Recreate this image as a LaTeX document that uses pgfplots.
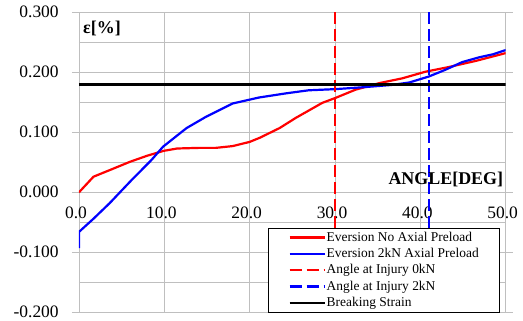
\documentclass[border=0pt]{standalone}
\usepackage{pgfplots}
\pgfplotsset{compat=1.18}
\usepackage{fontspec}
\setmainfont{Liberation Serif}
\begin{document}
\begin{tikzpicture}
\path[use as bounding box] (-79bp,-8.7bp) rectangle (444bp,312.3bp);
\begin{axis}[
  at={(0,0)}, anchor=south west,
  width=426.7bp, height=300bp, scale only axis,
  xmin=0, xmax=50, ymin=-0.2, ymax=0.3,
  xtick={0,10,20,30,40,50},
  ytick={-0.2,-0.1,0,0.1,0.2,0.3},
  minor ytick={-0.15,-0.05,0.05,0.15,0.25},
  grid=both,
  major grid style={draw=gray!50, line width=0.8bp},
  minor grid style={draw=gray!50, line width=0.8bp},
  axis line style={draw=none},
  tick align=outside,
  major tick length=7bp,
  minor tick length=0pt,
  ytick style={draw=gray!50, line width=0.8bp},
  xtick style={draw=none},
  /pgf/number format/assume math mode=true,
  xticklabel={\pgfmathprintnumber[assume math mode=true,fixed,fixed zerofill,precision=1]{\tick}},
  yticklabel={\pgfmathprintnumber[assume math mode=true,fixed,fixed zerofill,precision=3]{\tick}},
  tick label style={font=\fontsize{17.5}{19}\selectfont},
  xticklabel style={anchor=north, yshift=115.8bp, xshift=-3bp},
  yticklabel style={anchor=east, xshift=-9.8bp},
  legend style={at={(rel axis cs:0.987,0.282)}, anchor=north east, draw=black, line width=0.8bp, fill=white,
    inner xsep=20bp, inner ysep=2bp, font=\fontsize{13.5}{14}\selectfont, row sep=1.3bp,
    nodes={inner sep=1bp, text height=10bp, text depth=3bp}},
  legend cell align=left,
  legend image code/.code={\draw[#1, line width=2.4bp] (0bp,0bp) -- (35bp,0bp);},
]
\addplot[color=red, line width=2.2bp] coordinates {
(0,0) (1.7,0.026) (3.6,0.037) (6,0.051) (8,0.061) (9.9,0.069) (11.5,0.073) (14,0.074)
(16,0.074) (18,0.077) (20,0.084) (21.2,0.091) (23.5,0.107) (25.4,0.124) (28.5,0.149)
(30,0.157) (32.4,0.171) (35.2,0.182) (37.9,0.190) (40.6,0.201) (43.4,0.209) (46.5,0.219) (50,0.232)};
\addlegendentry{Eversion No Axial Preload}
\addplot[color=blue, line width=2.2bp] coordinates {
(0,-0.093) (0,-0.066) (1.7,-0.044) (3.6,-0.018) (6,0.018) (8.5,0.054) (9.85,0.076) (12.6,0.107)
(14.9,0.126) (18,0.148) (21.1,0.158) (24.3,0.165) (26.9,0.170) (30.1,0.172) (33.2,0.175)
(36.7,0.179) (38.7,0.183) (41,0.193) (42.9,0.204) (44.9,0.217) (46.9,0.225) (48.5,0.230) (50,0.237)};
\addlegendentry{Eversion 2kN Axial Preload}
\addplot[color=red, line width=2.2bp, dash pattern=on 12bp off 5bp] coordinates {(30,0.3) (30,-0.2)};
\addlegendentry{Angle at Injury 0kN}
\addplot[color=blue, line width=2.2bp, dash pattern=on 12bp off 5bp] coordinates {(41,0.3) (41,-0.2)};
\addlegendentry{Angle at Injury 2kN}
\addplot[color=black, line width=2.6bp] coordinates {(0,0.18) (50,0.18)};
\addlegendentry{Breaking Strain}
\node[anchor=west, font=\bfseries\fontsize{18}{20}\selectfont, inner sep=4bp] at (axis cs:0,0.273) {ε[\%]};
\node[anchor=base east, font=\bfseries\fontsize{18}{20}\selectfont, inner xsep=2.4bp] at (axis cs:50,0.0122) {ANGLE[DEG]};
\end{axis}
\end{tikzpicture}
\end{document}
